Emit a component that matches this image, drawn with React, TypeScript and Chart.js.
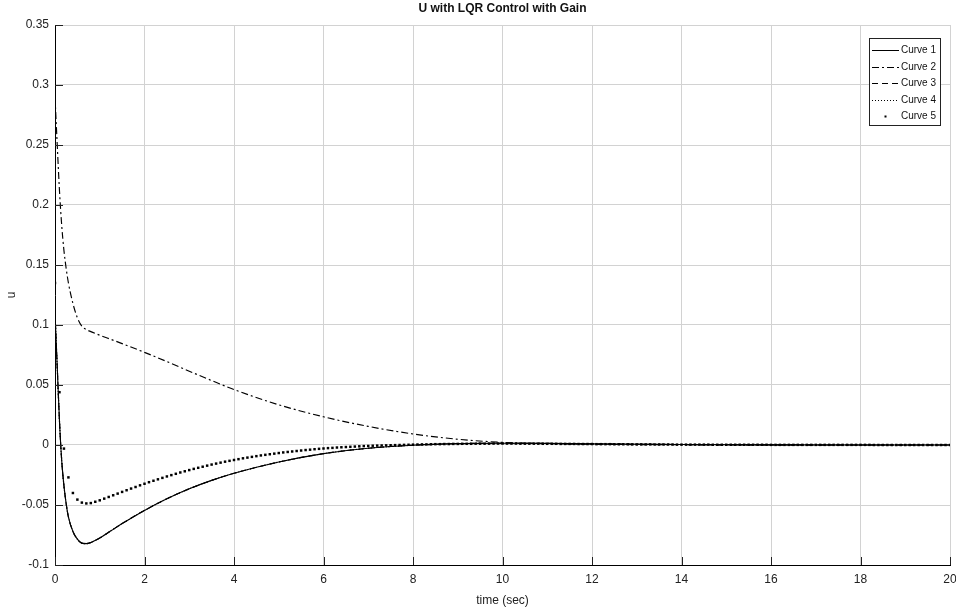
import React, { useEffect, useRef } from 'react';
import { Chart, registerables } from 'chart.js';

Chart.register(...registerables);

const chartTitle = 'U with LQR Control with Gain';
const xAxisTitle = 'time (sec)';
const yAxisTitle = 'u';
const seriesLabels = ['Curve 1', 'Curve 2', 'Curve 3', 'Curve 4', 'Curve 5'];

const xTickValues = [0, 2, 4, 6, 8, 10, 12, 14, 16, 18, 20];
const yTickValues = [-0.1, -0.05, 0, 0.05, 0.1, 0.15, 0.2, 0.25, 0.3, 0.35];

// sample times for the line curves
const lineTimes = [0, 0.05, 0.1, 0.15, 0.2, 0.25, 0.3, 0.4, 0.5, 0.6, 0.7, 0.8, 1, 1.25, 1.5, 2, 2.5, 3, 3.5, 4, 5, 6, 7, 8, 9, 10, 11, 12, 14, 16, 18, 20];

const curve1Values = [0.11, 0.065, 0.02, -0.013, -0.034, -0.049, -0.06, -0.072, -0.0785, -0.0818, -0.0822, -0.0812, -0.0775, -0.0715, -0.0655, -0.0545, -0.0448, -0.0365, -0.0295, -0.0236, -0.0142, -0.0072, -0.0027, -0.0002, 0.0011, 0.0015, 0.0013, 0.0009, 0.0004, 0.0001, 0, 0];

const curve2Values = [0.29, 0.25, 0.212, 0.183, 0.162, 0.147, 0.135, 0.118, 0.106, 0.099, 0.0962, 0.0945, 0.0915, 0.088, 0.0845, 0.0772, 0.0695, 0.0615, 0.0537, 0.0462, 0.0335, 0.0235, 0.0155, 0.0092, 0.0048, 0.0022, 0.0011, 0.0006, 0.0002, 0.0001, 0, 0];

// curves 3 and 4 lie under curve 1 in the picture
const curve3Values = [0.11, 0.065, 0.02, -0.013, -0.034, -0.049, -0.06, -0.072, -0.0785, -0.0818, -0.0822, -0.0812, -0.0775, -0.0715, -0.0655, -0.0545, -0.0448, -0.0365, -0.0295, -0.0236, -0.0142, -0.0072, -0.0027, -0.0002, 0.0011, 0.0015, 0.0013, 0.0009, 0.0004, 0.0001, 0, 0];

const curve4Values = [0.11, 0.065, 0.02, -0.013, -0.034, -0.049, -0.06, -0.072, -0.0785, -0.0818, -0.0822, -0.0812, -0.0775, -0.0715, -0.0655, -0.0545, -0.0448, -0.0365, -0.0295, -0.0236, -0.0142, -0.0072, -0.0027, -0.0002, 0.0011, 0.0015, 0.0013, 0.0009, 0.0004, 0.0001, 0, 0];

// curve 5: markers every 0.1 s from t = 0 to t = 20
const dotStep = 0.1;
const curve5Values = [
  0.135, 0.044, -0.003, -0.027, -0.04, -0.0455, -0.048, -0.0487, -0.0484, -0.0473,
  -0.0461, -0.0447, -0.0433, -0.0419, -0.0405, -0.0391, -0.0377, -0.0363, -0.035, -0.0336,
  -0.0323, -0.031, -0.0298, -0.0286, -0.0274, -0.0262, -0.0251, -0.024, -0.0229, -0.0219,
  -0.0209, -0.0199, -0.019, -0.0181, -0.0172, -0.0163, -0.0155, -0.0147, -0.0139, -0.0132,
  -0.0125, -0.0118, -0.0111, -0.0105, -0.0099, -0.0093, -0.0087, -0.0082, -0.0077, -0.0072,
  -0.0067, -0.0062, -0.0058, -0.0054, -0.005, -0.0046, -0.0042, -0.0039, -0.0035, -0.0032,
  -0.0029, -0.0026, -0.0024, -0.0021, -0.0019, -0.0017, -0.0015, -0.0013, -0.0011, -0.0009,
  -0.0008, -0.0006, -0.0005, -0.0004, -0.0003, -0.0002, -0.0001, 0, 0.0001, 0.0002,
  0.0003, 0.0004, 0.0005, 0.0005, 0.0006, 0.0007, 0.0007, 0.0008, 0.0008, 0.0009,
  0.0009, 0.001, 0.001, 0.001, 0.0011, 0.0011, 0.0011, 0.0011, 0.0012, 0.0012,
  0.0012, 0.0012, 0.0012, 0.0012, 0.0011, 0.0011, 0.0011, 0.0011, 0.0011, 0.001,
  0.001, 0.001, 0.001, 0.0009, 0.0009, 0.0009, 0.0009, 0.0008, 0.0008, 0.0008,
  0.0008, 0.0007, 0.0007, 0.0007, 0.0007, 0.0006, 0.0006, 0.0006, 0.0006, 0.0005,
  0.0005, 0.0005, 0.0005, 0.0005, 0.0004, 0.0004, 0.0004, 0.0004, 0.0004, 0.0003,
  0.0003, 0.0003, 0.0003, 0.0003, 0.0003, 0.0003, 0.0003, 0.0002, 0.0002, 0.0002,
  0.0002, 0.0002, 0.0002, 0.0002, 0.0002, 0.0002, 0.0002, 0.0002, 0.0002, 0.0002,
  0.0001, 0.0001, 0.0001, 0.0001, 0.0001, 0.0001, 0.0001, 0.0001, 0.0001, 0.0001,
  0.0001, 0.0001, 0.0001, 0.0001, 0.0001, 0.0001, 0.0001, 0.0001, 0.0001, 0.0001,
  0.0001, 0.0001, 0.0001, 0, 0, 0, 0, 0, 0, 0,
  0, 0, 0, 0, 0, 0, 0, 0, 0, 0,
  0,
];

const FONT = "'Liberation Sans', Arial, Helvetica, sans-serif";

const titlePlugin = {
  id: 'plotTitle',
  afterDraw(chart: any) {
    const { ctx, chartArea } = chart;
    ctx.save();
    ctx.font = `bold 12px ${FONT}`;
    ctx.fillStyle = '#111';
    ctx.textAlign = 'center';
    ctx.textBaseline = 'middle';
    ctx.fillText(chartTitle, (chartArea.left + chartArea.right) / 2, 9);
    ctx.restore();
  },
};

const innerTicksPlugin = {
  id: 'innerTicks',
  afterDatasetsDraw(chart: any) {
    const { ctx, chartArea, scales } = chart;
    ctx.save();
    ctx.strokeStyle = '#222';
    ctx.lineWidth = 1;
    ctx.beginPath();
    scales.x.ticks.forEach((t: any) => {
      const px = Math.round(scales.x.getPixelForValue(t.value)) + 0.5;
      ctx.moveTo(px, chartArea.bottom);
      ctx.lineTo(px, chartArea.bottom - 8);
    });
    scales.y.ticks.forEach((t: any) => {
      const py = Math.round(scales.y.getPixelForValue(t.value)) + 0.5;
      ctx.moveTo(chartArea.left, py);
      ctx.lineTo(chartArea.left + 8, py);
    });
    ctx.stroke();
    ctx.restore();
  },
};

const boxLegendPlugin = {
  id: 'boxLegend',
  afterDraw(chart: any) {
    const { ctx, chartArea } = chart;
    const datasets = chart.data.datasets;
    const boxRight = chartArea.right - 10;
    const boxW = 71;
    const boxH = 87;
    const boxLeft = boxRight - boxW;
    const boxTop = chartArea.top + 13;
    ctx.save();
    ctx.fillStyle = '#fff';
    ctx.fillRect(boxLeft, boxTop, boxW, boxH);
    ctx.strokeStyle = '#222';
    ctx.lineWidth = 1;
    ctx.strokeRect(Math.round(boxLeft) + 0.5, Math.round(boxTop) + 0.5, boxW, boxH);
    ctx.font = `10px ${FONT}`;
    ctx.textBaseline = 'middle';
    ctx.textAlign = 'left';
    datasets.forEach((ds: any, i: number) => {
      const y = Math.round(boxTop + 12 + i * 16.6) + 0.5;
      const x0 = boxLeft + 3;
      const x1 = boxLeft + 30;
      if (ds.showLine === false) {
        ctx.fillStyle = '#000';
        ctx.fillRect((x0 + x1) / 2 - 1, y - 1, 2, 2);
      } else {
        ctx.strokeStyle = '#000';
        ctx.lineWidth = 1;
        ctx.setLineDash(ds.borderDash || []);
        ctx.beginPath();
        ctx.moveTo(x0, y);
        ctx.lineTo(x1, y);
        ctx.stroke();
        ctx.setLineDash([]);
      }
      ctx.fillStyle = '#111';
      ctx.fillText(ds.label, x1 + 2, y);
    });
    ctx.restore();
  },
};

export default function App() {
  const canvasRef = useRef<HTMLCanvasElement | null>(null);

  useEffect(() => {
    document.body.style.margin = '0';
    const canvas = canvasRef.current;
    if (!canvas) return;

    const toPoints = (vals: number[]) => lineTimes.map((t, i) => ({ x: t, y: vals[i] }));
    const lineBase = {
      borderColor: '#000',
      backgroundColor: '#000',
      borderWidth: 1.15,
      pointRadius: 0,
      pointHoverRadius: 0,
      fill: false,
      cubicInterpolationMode: 'monotone',
    };

    const chart = new Chart(canvas, {
      type: 'line',
      data: {
        datasets: [
          { ...lineBase, label: seriesLabels[0], data: toPoints(curve1Values), borderDash: [] },
          { ...lineBase, label: seriesLabels[1], data: toPoints(curve2Values), borderDash: [7, 3, 2, 3] },
          { ...lineBase, label: seriesLabels[2], data: toPoints(curve3Values), borderDash: [6, 4] },
          { ...lineBase, label: seriesLabels[3], data: toPoints(curve4Values), borderDash: [1, 2] },
          {
            label: seriesLabels[4],
            data: curve5Values.map((v, i) => ({ x: i * dotStep, y: v })),
            showLine: false,
            pointStyle: 'rect',
            pointRadius: 1.75,
            pointBorderWidth: 0,
            pointBackgroundColor: '#000',
            borderColor: '#000',
            backgroundColor: '#000',
          },
        ] as any,
      },
      options: {
        animation: false,
        responsive: false,
        maintainAspectRatio: false,
        devicePixelRatio: 1,
        layout: { padding: { top: 25, right: 6, left: 0, bottom: 0 } },
        plugins: {
          legend: { display: false },
          title: { display: false },
          tooltip: { enabled: false },
        },
        scales: {
          x: {
            type: 'linear',
            min: 0,
            max: 20,
            afterBuildTicks: (s: any) => {
              s.ticks = xTickValues.map((v) => ({ value: v }));
            },
            afterFit: (s: any) => {
              s.height = 47;
              s.paddingLeft = 0;
              s.paddingRight = 0;
            },
            grid: { color: '#d2d2d2', drawTicks: false, lineWidth: 1 },
            border: { display: true, color: '#000', width: 1 },
            ticks: {
              color: '#222',
              font: { family: FONT, size: 12 },
              padding: 7,
              maxRotation: 0,
              autoSkip: false,
              callback: (v: any) => String(v),
            },
            title: {
              display: true,
              text: xAxisTitle,
              color: '#222',
              font: { family: FONT, size: 12 },
              padding: { top: 2, bottom: 4 },
            },
          },
          y: {
            type: 'linear',
            min: -0.1,
            max: 0.35,
            afterBuildTicks: (s: any) => {
              s.ticks = yTickValues.map((v) => ({ value: v }));
            },
            afterFit: (s: any) => {
              s.width = 55;
              s.paddingTop = 0;
              s.paddingBottom = 0;
            },
            grid: { color: '#d2d2d2', drawTicks: false, lineWidth: 1 },
            border: { display: true, color: '#000', width: 1 },
            ticks: {
              color: '#222',
              font: { family: FONT, size: 12 },
              padding: 6,
              autoSkip: false,
              callback: (v: any) => String(Math.round(Number(v) * 100) / 100),
            },
            title: {
              display: true,
              text: yAxisTitle,
              color: '#222',
              font: { family: FONT, size: 12 },
              padding: { top: 4, bottom: 0 },
            },
          },
        },
      } as any,
      plugins: [titlePlugin, innerTicksPlugin, boxLegendPlugin],
    });

    return () => {
      chart.destroy();
    };
  }, []);

  return (
    <div style={{ position: 'absolute', left: 0, top: 0, width: 956, height: 612, background: '#fff' }}>
      <canvas ref={canvasRef} width={956} height={612} style={{ display: 'block', width: 956, height: 612 }} />
    </div>
  );
}
